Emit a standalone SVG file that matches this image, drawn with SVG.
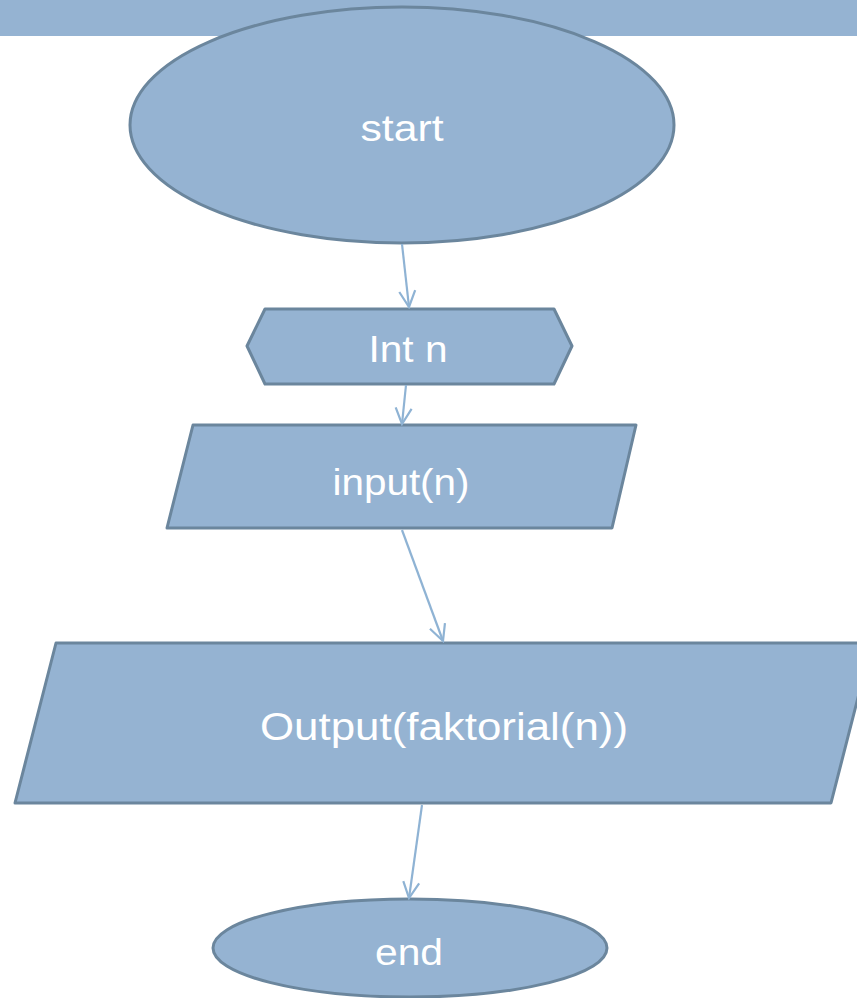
<svg xmlns="http://www.w3.org/2000/svg" width="857" height="998" viewBox="0 0 857 998">
<defs>
<style>
.shape{fill:#95b3d2;stroke:#6b869d;stroke-width:3;stroke-linejoin:round}
.lbl{font-family:"Liberation Sans","DejaVu Sans",sans-serif;fill:#ffffff;text-anchor:middle}
.conn line{stroke:#8fb3d4;stroke-width:2.2}
</style>
<marker id="arr" viewBox="0 0 20 20" refX="18" refY="10" markerWidth="20" markerHeight="20" markerUnits="userSpaceOnUse" orient="auto">
<path d="M2,2 L18,10 L2,18" fill="none" stroke="#8fb3d4" stroke-width="2.2"/>
</marker>
</defs>
<rect x="0" y="0" width="857" height="36" fill="#95b3d2"/>
<g id="start">
<ellipse class="shape" cx="402" cy="125" rx="272" ry="118"/>
<text class="lbl" x="402" y="141" font-size="36" textLength="83" lengthAdjust="spacingAndGlyphs">start</text>
</g>
<g id="int_n">
<polygon class="shape" points="265,309 554,309 572,346 554,384 265,384 247,346"/>
<text class="lbl" x="408" y="362" font-size="36" textLength="79" lengthAdjust="spacingAndGlyphs">Int n</text>
</g>
<g id="input">
<polygon class="shape" points="193,425 636,425 612,528 167,528"/>
<text class="lbl" x="401" y="495" font-size="36" textLength="137" lengthAdjust="spacingAndGlyphs">input(n)</text>
</g>
<g id="output">
<polygon class="shape" points="56,643 872,643 831,803 15,803"/>
<text class="lbl" x="444" y="740" font-size="38" textLength="368" lengthAdjust="spacingAndGlyphs">Output(faktorial(n))</text>
</g>
<g id="end">
<ellipse class="shape" cx="410" cy="948" rx="197" ry="49"/>
<text class="lbl" x="409" y="965" font-size="36" textLength="68" lengthAdjust="spacingAndGlyphs">end</text>
</g>
<g id="connectors" class="conn">
<line x1="402" y1="244" x2="409" y2="307" marker-end="url(#arr)"/>
<line x1="406" y1="385" x2="402" y2="424" marker-end="url(#arr)"/>
<line x1="402" y1="530" x2="443" y2="641" marker-end="url(#arr)"/>
<line x1="422" y1="805" x2="409" y2="898" marker-end="url(#arr)"/>
</g>
</svg>
